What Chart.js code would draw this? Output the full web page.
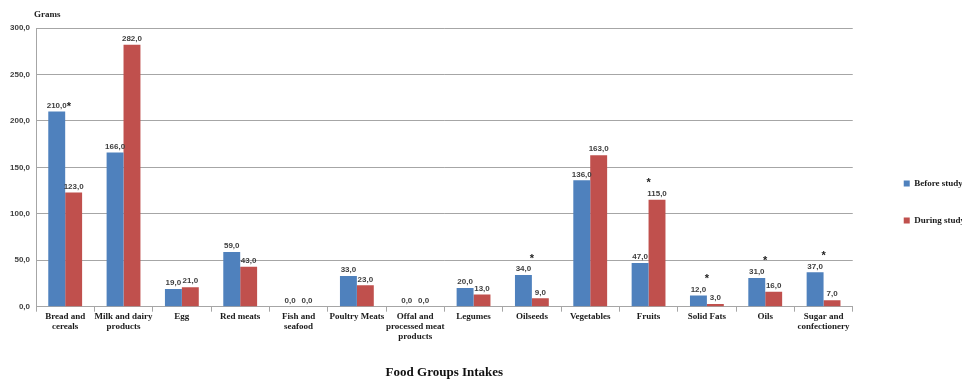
<!DOCTYPE html>
<html>
<head>
<meta charset="utf-8">
<script src="https://cdn.jsdelivr.net/npm/chart.js@4/dist/chart.umd.min.js"></script>
<style>
  html, body { margin: 0; padding: 0; background: #fff; }
  #wrap { width: 962px; height: 380px; }
</style>
</head>
<body>
<div id="wrap"><canvas id="intakes" width="962" height="380"></canvas></div>
<script>
const groups = [
  ["Bread and", "cereals"],
  ["Milk and dairy", "products"],
  "Egg",
  "Red meats",
  ["Fish and", "seafood"],
  "Poultry Meats",
  ["Offal and", "processed meat", "products"],
  "Legumes",
  "Oilseeds",
  "Vegetables",
  "Fruits",
  "Solid Fats",
  "Oils",
  ["Sugar and", "confectionery"],
];
const beforeStudy = [210, 166, 19, 59, 0, 33, 0, 20, 34, 136, 47, 12, 31, 37];
const duringStudy = [123, 282, 21, 43, 0, 23, 0, 13, 9, 163, 115, 3, 16, 7];
// where the significance star goes: next to the first label, above the pair, or none
const starAt = ["label", "", "", "", "", "", "", "", "group", "", "group", "group", "group", "group"];
const yTicks = [0, 50, 100, 150, 200, 250, 300];

const fmt = (v) => v.toFixed(1).replace(".", ",");
const labelFont = "bold 8px 'Liberation Sans', Arial, sans-serif";

// legend sits further right than Chart.js puts it, close to the edge
const legendShift = {
  id: "legendShift",
  afterLayout(chart) {
    const lg = chart.legend;
    lg.left += 23;
    lg.right += 23;
    lg.top -= 2;
    lg.bottom -= 2;
  },
};

const valueLabels = {
  id: "valueLabels",
  afterDatasetsDraw(chart) {
    const ctx = chart.ctx;
    const y = chart.scales.y;
    ctx.save();
    ctx.font = labelFont;
    ctx.fillStyle = "#404040";
    ctx.textAlign = "center";
    ctx.textBaseline = "bottom";
    chart.data.datasets.forEach((ds, di) => {
      chart.getDatasetMeta(di).data.forEach((bar, i) => {
        ctx.fillText(fmt(ds.data[i]), bar.x, bar.y - 2);
      });
    });
    // significance stars
    const blue = chart.getDatasetMeta(0).data;
    const red = chart.getDatasetMeta(1).data;
    starAt.forEach((mode, i) => {
      if (mode === "label") {
        ctx.font = labelFont;
        const lw = ctx.measureText(fmt(beforeStudy[i])).width;
        ctx.font = "bold 11px 'Liberation Sans', Arial, sans-serif";
        ctx.fillStyle = "#222";
        ctx.textAlign = "left";
        ctx.fillText("*", blue[i].x + lw / 2, blue[i].y + 1);
      } else if (mode === "group") {
        const top = y.getPixelForValue(Math.max(beforeStudy[i], duringStudy[i]));
        ctx.font = "bold 11px 'Liberation Sans', Arial, sans-serif";
        ctx.fillStyle = "#222";
        ctx.textAlign = "center";
        ctx.fillText("*", (blue[i].x + red[i].x) / 2, top - 11);
      }
    });
    // unit caption above the value axis
    ctx.font = "bold 9px 'Liberation Serif', 'Times New Roman', serif";
    ctx.fillStyle = "#222";
    ctx.textAlign = "left";
    ctx.textBaseline = "middle";
    ctx.fillText("Grams", y.right - 2, chart.chartArea.top - 13);
    ctx.restore();
  },
};

new Chart(document.getElementById("intakes"), {
  type: "bar",
  data: {
    labels: groups,
    datasets: [
      { label: "Before study", data: beforeStudy, backgroundColor: "#4F81BD" },
      { label: "During study", data: duringStudy, backgroundColor: "#C0504D" },
    ],
  },
  options: {
    responsive: false,
    animation: false,
    categoryPercentage: 0.58,
    barPercentage: 1,
    layout: { padding: { top: 28, left: 4, right: 10, bottom: 0 } },
    scales: {
      x: {
        grid: {
          offset: true,
          drawOnChartArea: false,
          tickLength: 5,
          color: "#a6a6a6",
        },
        border: { color: "#a6a6a6" },
        ticks: {
          autoSkip: false,
          maxRotation: 0,
          padding: 0,
          color: "#1a1a1a",
          font: { family: "'Liberation Serif', 'Times New Roman', serif", size: 9, weight: "bold", lineHeight: 1.1 },
        },
        title: {
          display: true,
          text: "Food Groups Intakes",
          color: "#111",
          padding: { top: 23, bottom: 0 },
          font: { family: "'Liberation Serif', 'Times New Roman', serif", size: 13, weight: "bold" },
        },
      },
      y: {
        min: 0,
        max: 300,
        afterBuildTicks(scale) {
          scale.ticks = yTicks.map((v) => ({ value: v }));
        },
        grid: { color: "#a6a6a6", drawTicks: false },
        border: { color: "#a6a6a6" },
        ticks: {
          padding: 6,
          color: "#404040",
          font: { family: "'Liberation Sans', Arial, sans-serif", size: 8, weight: "bold" },
          callback: (v) => fmt(v),
        },
      },
    },
    plugins: {
      tooltip: { enabled: false },
      legend: {
        position: "right",
        labels: {
          boxWidth: 6,
          boxHeight: 6,
          padding: 28,
          color: "#1a1a1a",
          font: { family: "'Liberation Serif', 'Times New Roman', serif", size: 9, weight: "bold" },
        },
      },
    },
  },
  plugins: [legendShift, valueLabels],
});
</script>
</body>
</html>
